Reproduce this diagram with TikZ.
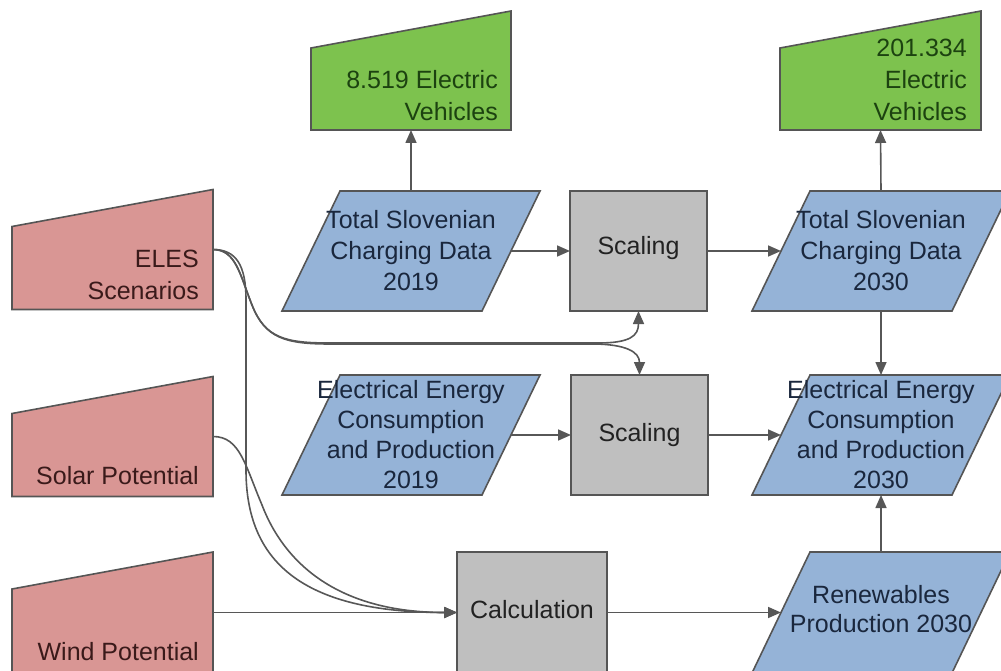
\documentclass[tikz,border=0pt]{standalone}
\usepackage{fontspec}
\setmainfont{Liberation Sans}
\usetikzlibrary{arrows.meta}
\definecolor{redfill}{HTML}{D99694}
\definecolor{greenfill}{HTML}{7DC24E}
\definecolor{bluefill}{HTML}{95B3D7}
\definecolor{grayfill}{HTML}{BFBFBF}
\definecolor{edgecol}{HTML}{555555}
\definecolor{conncol}{HTML}{575757}
\definecolor{redtext}{HTML}{3A1A1A}
\definecolor{greentext}{HTML}{1C4210}
\definecolor{bluetext}{HTML}{1A273D}
\definecolor{graytext}{HTML}{222222}
\newcommand\paraShape[1]{\draw[shapeline, fill=bluefill] (#1.south west) -- ([xshift=-58pt]#1.south east) -- (#1.north east) -- ([xshift=58pt]#1.north west) -- cycle;}
\newcommand\manualShape[2]{\draw[shapeline, fill=#1] (#2.south west) -- (#2.south east) -- (#2.north east) -- ([yshift=-37pt]#2.north west) -- cycle;}
\begin{document}
\begin{tikzpicture}[x=1pt,y=-1pt,
  holder/.style={draw=none, fill=none, inner sep=0pt, outer sep=0pt, rectangle},
  shapeline/.style={draw=edgecol, line width=1.6pt},
  graybox/.style={holder, draw=edgecol, line width=1.6pt, fill=grayfill},
  conn/.style={draw=conncol, line width=1.6pt, -{Triangle[length=13pt,width=11pt]}},
  txt/.style={font=\fontsize{25}{31}\selectfont, align=center, inner sep=0pt},
  rtxt/.style={font=\fontsize{25}{32}\selectfont, align=right, inner sep=0pt, anchor=south east}
]
\useasboundingbox (0,0) rectangle (1001,671);
\clip (0,0) rectangle (1001,671);

% shape holders
\node[holder, minimum width=201pt, minimum height=120pt] (eles)  at (112.5,249.5) {};
\node[holder, minimum width=201pt, minimum height=120pt] (solar) at (112.5,436.5) {};
\node[holder, minimum width=201pt, minimum height=121pt] (wind)  at (112.5,612.5) {};
\node[holder, minimum width=200pt, minimum height=119pt] (ev19)  at (411,70.5) {};
\node[holder, minimum width=201pt, minimum height=119pt] (ev30)  at (880.5,70.5) {};
\node[holder, minimum width=258pt, minimum height=120pt] (ts19)  at (411,251) {};
\node[holder, minimum width=258pt, minimum height=120pt] (ts30)  at (881,251) {};
\node[holder, minimum width=258pt, minimum height=120pt] (ee19)  at (411,435) {};
\node[holder, minimum width=258pt, minimum height=120pt] (ee30)  at (881,435) {};
\node[holder, minimum width=258pt, minimum height=121pt] (ren)   at (881,612.5) {};

% shapes
\manualShape{redfill}{eles}
\manualShape{redfill}{solar}
\manualShape{redfill}{wind}
\manualShape{greenfill}{ev19}
\manualShape{greenfill}{ev30}
\paraShape{ts19}
\paraShape{ts30}
\paraShape{ee19}
\paraShape{ee30}
\paraShape{ren}
\node[graybox, minimum width=137pt, minimum height=120pt] (sc1)  at (638.5,251) {};
\node[graybox, minimum width=137pt, minimum height=120pt] (sc2)  at (639.5,435) {};
\node[graybox, minimum width=150pt, minimum height=121pt] (calc) at (532,612.5) {};

% connectors
\draw[conn] (ts19.north) -- (ev19.south);
\draw[conn] (ts30.north) -- (ev30.south);
\draw[conn] ([xshift=-29pt]ts19.east) -- (sc1.west);
\draw[conn] (sc1.east) -- ([xshift=29pt]ts30.west);
\draw[conn] (ts30.south) -- (ee30.north);
\draw[conn] ([xshift=-29pt]ee19.east) -- (sc2.west);
\draw[conn] (sc2.east) -- ([xshift=29pt]ee30.west);
\draw[conn] (ren.north) -- (ee30.south);
\draw[conn] (calc.east) -- ([xshift=29pt]ren.west);
\draw[conn] (wind.east) -- (calc.west);
\draw[conn] (solar.east) .. controls (240,436.5) and (245,465) .. (262,505)
  .. controls (285,565) and (340,612.5) .. (calc.west);
\draw[conn] (eles.east) .. controls (236,249.5) and (246,265) .. (246,300)
  -- (246,470) .. controls (246,560) and (300,612.5) .. (calc.west);
\draw[conn] (eles.east) .. controls (236,249.5) and (240,275) .. (252,305)
  .. controls (265,338) and (285,343) .. (330,343) -- (598,343)
  .. controls (630,343) and (638.5,336) .. (sc1.south);
\draw[conn] (eles.east) .. controls (236,249.5) and (240,275) .. (252,305)
  .. controls (265,338) and (285,344) .. (330,344) -- (592,344)
  .. controls (626,344) and (639.5,352) .. (sc2.north);

% texts
\node[rtxt, text=redtext] (elest) at ([xshift=-14pt,yshift=10pt]eles.south east) {ELES\\Scenarios};
\node[rtxt, text=redtext] (solart) at ([xshift=-14pt,yshift=12pt]solar.south east) {Solar Potential};
\node[rtxt, text=redtext] (windt) at ([xshift=-14pt,yshift=12pt]wind.south east) {Wind Potential};
\node[rtxt, text=greentext] (ev19t) at ([xshift=-13pt,yshift=9pt]ev19.south east) {8.519 Electric\\Vehicles};
\node[rtxt, text=greentext] (ev30t) at ([xshift=-14pt,yshift=9pt]ev30.south east) {201.334\\Electric\\Vehicles};
\node[txt, text=bluetext] (ts19t) at (ts19) {Total Slovenian\\Charging Data\\2019};
\node[txt, text=bluetext] (ts30t) at (ts30) {Total Slovenian\\Charging Data\\2030};
\node[txt, text=bluetext, font=\fontsize{25}{30}\selectfont] (ee19t) at (ee19) {Electrical Energy\\Consumption\\and Production\\2019};
\node[txt, text=bluetext, font=\fontsize{25}{30}\selectfont] (ee30t) at (ee30) {Electrical Energy\\Consumption\\and Production\\2030};
\node[txt, text=bluetext, font=\fontsize{25}{29}\selectfont] (rent) at ([yshift=3pt]ren) {Renewables\\Production 2030};
\node[txt, text=graytext] (sc1t) at ([yshift=3pt]sc1) {Scaling};
\node[txt, text=graytext] (sc2t) at (sc2) {Scaling};
\node[txt, text=graytext] (calct) at ([yshift=3pt]calc) {Calculation};
\end{tikzpicture}
\end{document}
